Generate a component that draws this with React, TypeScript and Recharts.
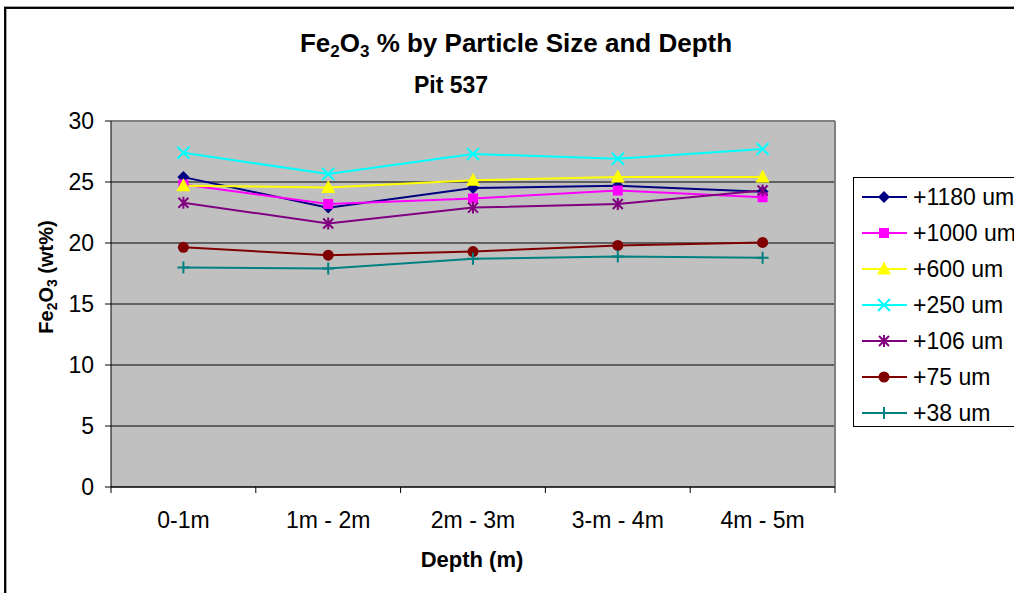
import { LineChart, Line, XAxis, YAxis, CartesianGrid, Legend } from "recharts";

const depths = ["0-1m", "1m - 2m", "2m - 3m", "3-m - 4m", "4m - 5m"];
const um1180 = [25.4, 22.9, 24.5, 24.7, 24.2];
const um1000 = [24.8, 23.2, 23.65, 24.3, 23.75];
const um600 = [24.7, 24.55, 25.15, 25.4, 25.4];
const um250 = [27.4, 25.65, 27.3, 26.9, 27.7];
const um106 = [23.3, 21.6, 22.9, 23.2, 24.3];
const um75 = [19.65, 19.0, 19.3, 19.8, 20.05];
const um38 = [18.0, 17.9, 18.7, 18.9, 18.8];
const yTicks = [0, 5, 10, 15, 20, 25, 30];
// category slots: boundaries on whole numbers, labels at the half steps
const xTicks = [0, 0.5, 1, 1.5, 2, 2.5, 3, 3.5, 4, 4.5, 5];

const series = [
  { key: "s1180", name: "+1180 um", values: um1180, color: "#000080", shape: "diamond" },
  { key: "s1000", name: "+1000 um", values: um1000, color: "#FF00FF", shape: "square" },
  { key: "s600", name: "+600 um", values: um600, color: "#FFFF00", shape: "triangle" },
  { key: "s250", name: "+250 um", values: um250, color: "#00FFFF", shape: "x" },
  { key: "s106", name: "+106 um", values: um106, color: "#800080", shape: "star" },
  { key: "s75", name: "+75 um", values: um75, color: "#800000", shape: "circle" },
  { key: "s38", name: "+38 um", values: um38, color: "#008080", shape: "plus" },
];

const data = depths.map((depth, i) => {
  const row: Record<string, string | number> = { depth, slot: i + 0.5 };
  series.forEach((s) => {
    row[s.key] = s.values[i];
  });
  return row;
});

const FONT = "'Liberation Sans', Arial, sans-serif";

const Marker = ({ shape, color, cx, cy }: { shape: string; color: string; cx: number; cy: number }) => {
  switch (shape) {
    case "diamond":
      return <polygon points={`${cx},${cy - 6} ${cx + 6},${cy} ${cx},${cy + 6} ${cx - 6},${cy}`} fill={color} />;
    case "square":
      return <rect x={cx - 5} y={cy - 5} width={10} height={10} fill={color} />;
    case "triangle":
      return <polygon points={`${cx},${cy - 7.5} ${cx + 7},${cy + 5.5} ${cx - 7},${cy + 5.5}`} fill={color} />;
    case "x":
      return (
        <path d={`M${cx - 6},${cy - 6}L${cx + 6},${cy + 6}M${cx - 6},${cy + 6}L${cx + 6},${cy - 6}`} stroke={color} strokeWidth={2} fill="none" />
      );
    case "star":
      return (
        <path
          d={`M${cx - 5},${cy - 5}L${cx + 5},${cy + 5}M${cx - 5},${cy + 5}L${cx + 5},${cy - 5}M${cx},${cy - 6}L${cx},${cy + 6}`}
          stroke={color}
          strokeWidth={2}
          fill="none"
        />
      );
    case "circle":
      return <circle cx={cx} cy={cy} r={5.5} fill={color} />;
    case "plus":
      return <path d={`M${cx - 6},${cy}L${cx + 6},${cy}M${cx},${cy - 6}L${cx},${cy + 6}`} stroke={color} strokeWidth={2} fill="none" />;
    default:
      return null;
  }
};

const DepthTick = (props: any) => {
  const { x, y, payload } = props;
  const v = payload.value;
  if (v % 1 === 0) {
    return <line x1={x} x2={x} y1={y} y2={y + 6} stroke="#000" />;
  }
  return (
    <text x={x} y={y + 25} dy="0.71em" textAnchor="middle" fontSize={23} fontFamily={FONT} fill="#000">
      {depths[Math.floor(v)]}
    </text>
  );
};

const LegendBox = () => (
  <div style={{ width: 175, height: 250, border: "1px solid #000", background: "#fff", boxSizing: "border-box" }}>
    <svg width={175} height={248}>
      {series.map((s, i) => {
        const cy = 19 + i * 36;
        return (
          <g key={s.key}>
            <line x1={8} x2={53} y1={cy} y2={cy} stroke={s.color} strokeWidth={2} />
            <Marker shape={s.shape} color={s.color} cx={30} cy={cy} />
            <text x={59} y={cy} dy="0.36em" fontSize={23} fontFamily={FONT} fill="#000">
              {s.name}
            </text>
          </g>
        );
      })}
    </svg>
  </div>
);

const App = () => {
  return (
    <div style={{ position: "fixed", left: 0, top: 0, width: 1014, height: 593, overflow: "hidden", background: "#fff" }}>
      <LineChart width={1014} height={593} data={data} margin={{ top: 121, right: 179, bottom: 46, left: 51 }}>
        <CartesianGrid vertical={false} fill="#C0C0C0" fillOpacity={1} stroke="#000" />
        <CartesianGrid
          stroke="#808080"
          strokeWidth={2}
          horizontalCoordinatesGenerator={({ offset }: any) => [offset.top]}
          verticalCoordinatesGenerator={({ offset }: any) => [offset.left + offset.width]}
        />
        <XAxis
          dataKey="slot"
          type="number"
          domain={[0, 5]}
          ticks={xTicks}
          interval={0}
          height={60}
          tickLine={false}
          tickSize={0}
          tickMargin={0}
          stroke="#000"
          tick={<DepthTick />}
        />
        <YAxis
          type="number"
          domain={[0, 30]}
          ticks={yTicks}
          width={60}
          tickSize={6}
          tickMargin={11}
          stroke="#000"
          tick={{ fontSize: 23, fill: "#000", fontFamily: FONT }}
        />
        <Legend
          layout="vertical"
          align="center"
          verticalAlign="middle"
          content={() => <LegendBox />}
          wrapperStyle={{ position: "absolute", left: 853, top: 177, width: 175, height: 250 }}
        />
        {series.map((s) => (
          <Line
            key={s.key}
            dataKey={s.key}
            name={s.name}
            stroke={s.color}
            strokeWidth={2}
            type="linear"
            isAnimationActive={false}
            dot={(p: any) => (
              <g key={`${s.key}-${p.index}`}>
                <Marker shape={s.shape} color={s.color} cx={p.cx} cy={p.cy} />
              </g>
            )}
            activeDot={false}
          />
        ))}
      </LineChart>
      <svg width={1014} height={593} style={{ position: "absolute", left: 0, top: 0, pointerEvents: "none" }}>
        <rect x={5.2} y={7.8} width={1100} height={700} fill="none" stroke="#000" strokeWidth={2.3} />
        <text x={516} y={52} textAnchor="middle" fontSize={26} fontWeight="bold" fontFamily={FONT} fill="#000">
          Fe
          <tspan fontSize={17} dy={5}>2</tspan>
          <tspan dy={-5}>O</tspan>
          <tspan fontSize={17} dy={5}>3</tspan>
          <tspan dy={-5}> % by Particle Size and Depth</tspan>
        </text>
        <text x={451} y={93} textAnchor="middle" fontSize={23} fontWeight="bold" fontFamily={FONT} fill="#000">
          Pit 537
        </text>
        <text x={472} y={567} textAnchor="middle" fontSize={22} fontWeight="bold" fontFamily={FONT} fill="#000">
          Depth (m)
        </text>
        <text
          x={53}
          y={277}
          textAnchor="middle"
          transform="rotate(-90, 53, 277)"
          fontSize={20}
          fontWeight="bold"
          fontFamily={FONT}
          fill="#000"
        >
          Fe
          <tspan fontSize={14} dy={4}>2</tspan>
          <tspan dy={-4}>O</tspan>
          <tspan fontSize={14} dy={4}>3</tspan>
          <tspan dy={-4}> (wt%)</tspan>
        </text>
      </svg>
    </div>
  );
};

export default App;
